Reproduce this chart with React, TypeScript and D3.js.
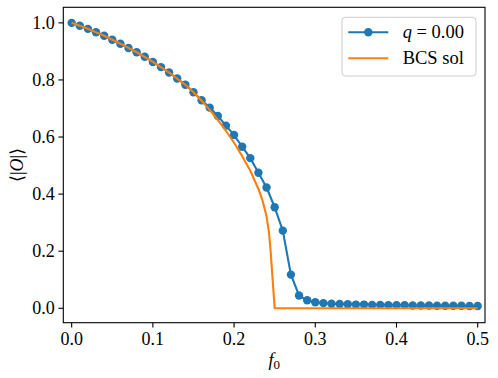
import React from "react";
import * as d3 from "d3";

// blue: q = 0.00 run, one point every 0.01 in f0
const fQ = d3.range(0, 51).map(i => +(i * 0.01).toFixed(2));
const oQ = [
  1.000, 0.990, 0.979, 0.967, 0.955, 0.941, 0.927, 0.912, 0.897, 0.881,
  0.863, 0.845, 0.826, 0.805, 0.783, 0.757, 0.729, 0.703, 0.674, 0.640,
  0.607, 0.566, 0.526, 0.475, 0.423, 0.354, 0.272, 0.118, 0.045, 0.028,
  0.021, 0.018, 0.016, 0.015, 0.014, 0.013, 0.013, 0.012, 0.012, 0.011,
  0.011, 0.011, 0.010, 0.010, 0.010, 0.009, 0.009, 0.009, 0.009, 0.008,
  0.008
];

// orange: BCS solution
const fBCS = [0, 0.02, 0.04, 0.06, 0.08, 0.10, 0.12, 0.14, 0.15, 0.16, 0.17, 0.18,
  0.19, 0.20, 0.21, 0.22, 0.23, 0.235, 0.24, 0.243, 0.245, 0.25, 0.5];
const oBCS = [1.0, 0.979, 0.955, 0.927, 0.897, 0.863, 0.826, 0.783, 0.757, 0.727,
  0.695, 0.660, 0.622, 0.580, 0.533, 0.482, 0.418, 0.378, 0.322, 0.265, 0.20, 0, 0];

const xTicks = [0, 0.1, 0.2, 0.3, 0.4, 0.5];
const yTicks = [0, 0.2, 0.4, 0.6, 0.8, 1.0];

const BLUE = "#1f77b4";
const ORANGE = "#ff7f0e";
const serif = {fontFamily: '"Liberation Serif"'};

const left = 63.3, right = 485, top = 7.3, bottom = 322.7;
const x = d3.scaleLinear().domain([-0.0103, 0.509]).range([left, right]);
const y = d3.scaleLinear().domain([-0.0505, 1.0545]).range([bottom, top]);
const fmt = d3.format(".1f");

function App() {
  const line = d3.line<[number, number]>().x(d => x(d[0])).y(d => y(d[1]));
  const pts = fQ.map((f, i) => [f, oQ[i]] as [number, number]);
  const bcs = fBCS.map((f, i) => [f, oBCS[i]] as [number, number]);
  const legend = [
    {label: "q", rest: " = 0.00", color: BLUE, marker: true},
    {label: "", rest: "BCS sol", color: ORANGE, marker: false}
  ];

  return (
    <svg width={498} height={378} style={{position: "absolute", left: 0, top: 0, background: "#fff"}}>
      {/* ticks */}
      {xTicks.map(t => (
        <g key={"x" + t} transform={`translate(${x(t)},${bottom})`}>
          <line y2={4.9} stroke="#000" strokeWidth={1.1} />
          <text y={22.5} textAnchor="middle" fontSize={18} style={serif}>{fmt(t)}</text>
        </g>
      ))}
      {yTicks.map(t => (
        <g key={"y" + t} transform={`translate(${left},${y(t)})`}>
          <line x2={-4.9} stroke="#000" strokeWidth={1.1} />
          <text x={-8.5} dy="0.33em" textAnchor="end" fontSize={18} style={serif}>{fmt(t)}</text>
        </g>
      ))}

      {/* q = 0.00 series */}
      <path d={line(pts) ?? ""} fill="none" stroke={BLUE} strokeWidth={2.1} />
      {pts.map((d, i) => (
        <circle key={i} cx={x(d[0])} cy={y(d[1])} r={4.2} fill={BLUE} />
      ))}

      {/* BCS solution */}
      <path d={line(bcs) ?? ""} fill="none" stroke={ORANGE} strokeWidth={2.1} strokeLinejoin="round" />

      {/* frame */}
      <rect x={left} y={top} width={right - left} height={bottom - top}
        fill="none" stroke="#000" strokeWidth={1.1} />

      {/* axis labels */}
      <text x={(left + right) / 2} y={366} textAnchor="middle" fontSize={18} style={serif}>
        <tspan fontStyle="italic">f</tspan>
        <tspan fontSize={13} dy={3}>0</tspan>
      </text>
      <text transform={`translate(23,${(top + bottom) / 2}) rotate(-90)`} textAnchor="middle" fontSize={18} style={serif}>
        <tspan>⟨|</tspan>
        <tspan fontStyle="italic">O</tspan>
        <tspan>|⟩</tspan>
      </text>

      {/* legend */}
      <rect x={342} y={17.3} width={134} height={58.7} rx={3.5}
        fill="#fff" fillOpacity={0.8} stroke="#ccc" strokeWidth={1} />
      {legend.map((it, i) => {
        const cy = 32.3 + i * 26;
        return (
          <g key={it.rest}>
            <line x1={348.3} x2={388.3} y1={cy} y2={cy} stroke={it.color} strokeWidth={2.1} />
            {it.marker && <circle cx={368.3} cy={cy} r={4.2} fill={it.color} />}
            <text x={402.7} y={cy + 6} fontSize={18.5} style={serif}>
              {it.label && <tspan fontStyle="italic">{it.label}</tspan>}
              <tspan>{it.rest}</tspan>
            </text>
          </g>
        );
      })}
    </svg>
  );
}

export default App;
